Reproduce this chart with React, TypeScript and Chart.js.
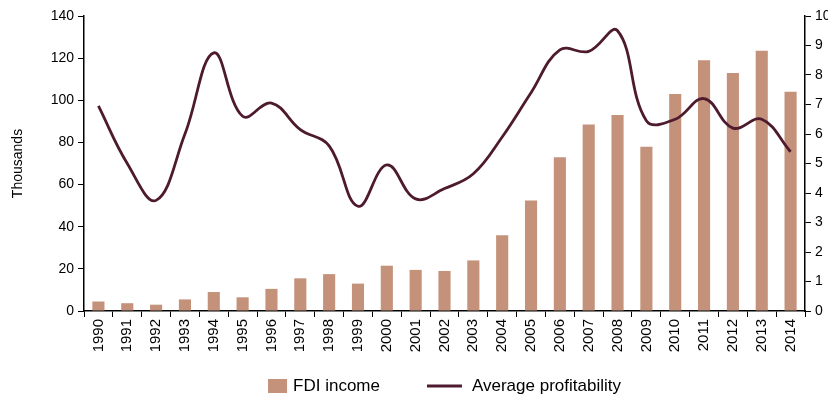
import React, { useEffect, useRef } from "react";
import { Chart, registerables } from "chart.js";

Chart.register(...registerables);

const years = ["1990","1991","1992","1993","1994","1995","1996","1997","1998","1999","2000","2001","2002","2003","2004","2005","2006","2007","2008","2009","2010","2011","2012","2013","2014"];
const fdiIncome = [4.5,3.7,3,5.5,9,6.5,10.5,15.5,17.5,13,21.5,19.5,19,24,36,52.5,73,88.5,93,78,103,119,113,123.5,104];
const avgProfitability = [6.95,5.0,3.75,6.0,8.75,6.6,7.05,6.15,5.6,3.55,4.95,3.8,4.15,4.65,5.9,7.4,8.85,8.8,9.5,6.45,6.5,7.2,6.2,6.5,5.4];
const leftTicks = { min: 0, max: 140, step: 20 };
const rightTicks = { min: 0, max: 10, step: 1 };
const seriesNames = ["FDI income", "Average profitability"];

const BAR_COLOR = "#c4917a";
const LINE_COLOR = "#4e1a2e";
const FONT = "'Liberation Sans', Arial, sans-serif";

const legendPlugin = {
  id: "customLegend",
  afterDraw(chart: any) {
    const ctx = chart.ctx as CanvasRenderingContext2D;
    const area = chart.chartArea;
    ctx.save();
    ctx.font = `17px ${FONT}`;
    ctx.textBaseline = "middle";
    ctx.fillStyle = "#000";
    const t1 = seriesNames[0];
    const t2 = seriesNames[1];
    const w1 = ctx.measureText(t1).width;
    const w2 = ctx.measureText(t2).width;
    const boxW = 19, gap1 = 6, spacing = 47, lineW = 35, gap2 = 10;
    const total = boxW + gap1 + w1 + spacing + lineW + gap2 + w2;
    const cx = (area.left + area.right) / 2;
    const y = 386;
    let x = cx - total / 2;
    ctx.fillStyle = BAR_COLOR;
    ctx.fillRect(x, y - 7, boxW, 14);
    x += boxW + gap1;
    ctx.fillStyle = "#000";
    ctx.textAlign = "left";
    ctx.fillText(t1, x, y);
    x += w1 + spacing;
    ctx.strokeStyle = LINE_COLOR;
    ctx.lineWidth = 3;
    ctx.beginPath();
    ctx.moveTo(x, y);
    ctx.lineTo(x + lineW, y);
    ctx.stroke();
    x += lineW + gap2;
    ctx.fillText(t2, x, y);
    ctx.restore();
  },
};

export default function App() {
  const ref = useRef<HTMLCanvasElement>(null);
  useEffect(() => {
    const canvas = ref.current!;
    const chart = new Chart(canvas, {
      type: "bar",
      data: {
        labels: years,
        datasets: [
          {
            type: "line",
            label: seriesNames[1],
            data: avgProfitability,
            yAxisID: "y1",
            borderColor: LINE_COLOR,
            borderWidth: 2.8,
            tension: 0.4,
            pointRadius: 0,
            fill: false,
            order: 0,
          } as any,
          {
            type: "bar",
            label: seriesNames[0],
            data: fdiIncome,
            yAxisID: "y",
            backgroundColor: BAR_COLOR,
            borderWidth: 0,
            categoryPercentage: 1,
            barPercentage: 0.42,
            order: 1,
          },
        ],
      },
      options: {
        animation: false,
        responsive: false,
        maintainAspectRatio: false,
        layout: { padding: { top: 16, bottom: 0, left: 0, right: 0 } },
        plugins: { legend: { display: false }, tooltip: { enabled: false } },
        scales: {
          x: {
            type: "category",
            offset: true,
            grid: { display: true, drawOnChartArea: false, drawTicks: true, tickLength: 6, color: "#000", offset: true },
            border: { color: "#000", width: 1.5 },
            ticks: { minRotation: 90, maxRotation: 90, autoSkip: false, color: "#000", font: { family: FONT, size: 15 }, padding: 2 },
            afterFit: (s: any) => { s.height = 90; },
          },
          y: {
            position: "left",
            min: leftTicks.min,
            max: leftTicks.max,
            grid: { display: true, drawOnChartArea: false, drawTicks: true, tickLength: 6, color: "#000" },
            border: { color: "#000", width: 1.5 },
            ticks: { stepSize: leftTicks.step, color: "#000", font: { family: FONT, size: 14 }, padding: 4 },
            title: { display: true, text: "Thousands", color: "#000", font: { family: FONT, size: 14 }, padding: { top: 10, bottom: 0 } },
            afterFit: (s: any) => { s.width = 84; },
          },
          y1: {
            position: "right",
            min: rightTicks.min,
            max: rightTicks.max,
            grid: { display: true, drawOnChartArea: false, drawTicks: true, tickLength: 6, color: "#000" },
            border: { color: "#000", width: 1.5 },
            ticks: { stepSize: rightTicks.step, color: "#000", font: { family: FONT, size: 14 }, padding: 4 },
            afterFit: (s: any) => { s.width = 23; },
          },
        },
      },
      plugins: [legendPlugin],
    } as any);
    return () => chart.destroy();
  }, []);
  return (
    <div style={{ position: "fixed", left: 0, top: 0, width: 828, height: 401, background: "#fff" }}>
      <canvas ref={ref} width={828} height={401} style={{ display: "block", width: 828, height: 401 }} />
    </div>
  );
}
